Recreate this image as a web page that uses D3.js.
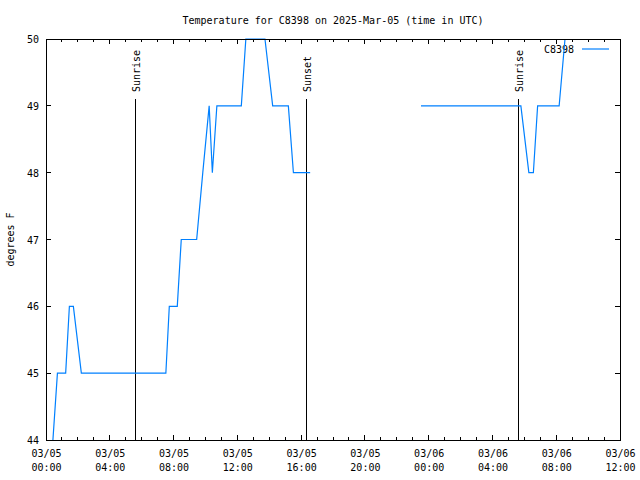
<!DOCTYPE html>
<html><head><meta charset="utf-8">
<script src="https://cdn.jsdelivr.net/npm/d3@7"></script>
<style>body{margin:0;background:#fff;} text{font-family:"DejaVu Sans Mono",monospace;font-size:10px;fill:#000;}</style>
</head><body><svg id="c" width="640" height="480"></svg>
<script>
const title = "Temperature for C8398 on 2025-Mar-05 (time in UTC)";
const yLabel = "degrees F";
const seriesName = "C8398";
// observation times (UTC) and temperatures; null = gap in data
const times = ["2025-03-05T00:26Z","2025-03-05T00:43Z","2025-03-05T01:14Z","2025-03-05T01:28Z","2025-03-05T01:43Z","2025-03-05T02:13Z",
  "2025-03-05T07:31Z","2025-03-05T07:44Z","2025-03-05T08:14Z","2025-03-05T08:29Z","2025-03-05T09:27Z","2025-03-05T09:50Z",
  "2025-03-05T10:14Z","2025-03-05T10:26Z","2025-03-05T10:43Z","2025-03-05T12:15Z","2025-03-05T12:32Z","2025-03-05T13:44Z",
  "2025-03-05T14:13Z","2025-03-05T15:12Z","2025-03-05T15:31Z","2025-03-05T16:34Z","2025-03-05T20:00Z",
  "2025-03-05T23:31Z","2025-03-06T05:47Z","2025-03-06T06:17Z","2025-03-06T06:34Z","2025-03-06T06:50Z","2025-03-06T08:11Z","2025-03-06T08:33Z"];
const temps = [44,45,45,46,46,45, 45,46,46,47,47,48, 49,48,49,49,50,50, 49,49,48,48,null, 49,49,48,48,49,49,50];
const events = ["Sunrise","Sunset","Sunrise"];
const eventTimes = ["2025-03-05T05:38Z","2025-03-05T16:20Z","2025-03-06T05:38Z"];
const xDomain = ["2025-03-05T00:00Z","2025-03-06T12:00Z"];
const yDomain = [44,50];

const svg = d3.select("#c");
const L=46,R=620,T=39,B=440;
const x = d3.scaleUtc().domain(xDomain.map(d=>new Date(d))).range([L,R]);
const y = d3.scaleLinear().domain(yDomain).range([B,T]);

svg.append("text").attr("x",(L+R)/2).attr("y",20).attr("text-anchor","middle").attr("dominant-baseline","central").text(title);
svg.append("text").attr("transform",`translate(10,${(T+B)/2}) rotate(-90)`).attr("text-anchor","middle").attr("dominant-baseline","central").text(yLabel);

const fmt1=d3.utcFormat("%m/%d"), fmt2=d3.utcFormat("%H:%M");
const major = x.ticks(d3.utcHour.every(4));
const minor = x.ticks(d3.utcHour.every(1));
const gb = svg.append("g").attr("transform",`translate(0,${B})`).call(d3.axisBottom(x).tickValues(major).tickSize(0).tickFormat(""));
gb.select(".domain").remove();
gb.selectAll(".tick").each(function(d){
  const t=d3.select(this);
  t.append("text").attr("y",13).attr("text-anchor","middle").attr("dominant-baseline","central").text(fmt1(d));
  t.append("text").attr("y",27).attr("text-anchor","middle").attr("dominant-baseline","central").text(fmt2(d));
});
const gl = svg.append("g").attr("transform",`translate(${L},0)`).call(d3.axisLeft(y).ticks(6).tickSize(0).tickFormat(d3.format("d")));
gl.select(".domain").remove();
gl.selectAll("text").attr("x",-7).attr("dy",null).attr("dominant-baseline","central").style("font-family",'"DejaVu Sans Mono",monospace').style("font-size","10px");

// sunrise / sunset
events.forEach((e,i)=>{
  const xe = x(new Date(eventTimes[i]));
  svg.append("line").attr("x1",xe).attr("x2",xe).attr("y1",99).attr("y2",B).attr("stroke","#000").attr("shape-rendering","crispEdges");
  svg.append("text").attr("transform",`translate(${xe+1},92) rotate(-90)`).attr("text-anchor","start").attr("dominant-baseline","central").text(e);
});

// legend text
svg.append("text").attr("x",574).attr("y",49).attr("text-anchor","end").attr("dominant-baseline","central").text(seriesName);
svg.append("line").attr("x1",582).attr("x2",609).attr("y1",49).attr("y2",49).attr("stroke","#0080ff").attr("stroke-width",1.2);

// data
const data = times.map((t,i)=>({t:new Date(t),v:temps[i]}));
const line = d3.line().defined(d=>d.v!==null).x(d=>x(d.t)).y(d=>y(d.v));
svg.append("defs").append("clipPath").attr("id","clip").append("rect").attr("x",L).attr("y",T-1).attr("width",R-L).attr("height",B-T+1);
svg.append("path").datum(data).attr("d",line).attr("fill","none").attr("stroke","#0080ff").attr("stroke-width",1.2).attr("clip-path","url(#clip)");

// ticks and border on top
const ticksG = svg.append("g").attr("stroke","#000").attr("shape-rendering","crispEdges");
minor.forEach(d=>{
  const isMaj = major.some(m=>+m===+d);
  const len = isMaj?5:3;
  ticksG.append("line").attr("x1",x(d)).attr("x2",x(d)).attr("y1",B).attr("y2",B-len);
  ticksG.append("line").attr("x1",x(d)).attr("x2",x(d)).attr("y1",T).attr("y2",T+len);
});
y.ticks(6).forEach(v=>{
  ticksG.append("line").attr("x1",L).attr("x2",L+5).attr("y1",y(v)).attr("y2",y(v));
  ticksG.append("line").attr("x1",R).attr("x2",R-5).attr("y1",y(v)).attr("y2",y(v));
});
svg.append("rect").attr("x",L).attr("y",T).attr("width",R-L).attr("height",B-T).attr("fill","none").attr("stroke","#000").attr("shape-rendering","crispEdges");
</script></body></html>
